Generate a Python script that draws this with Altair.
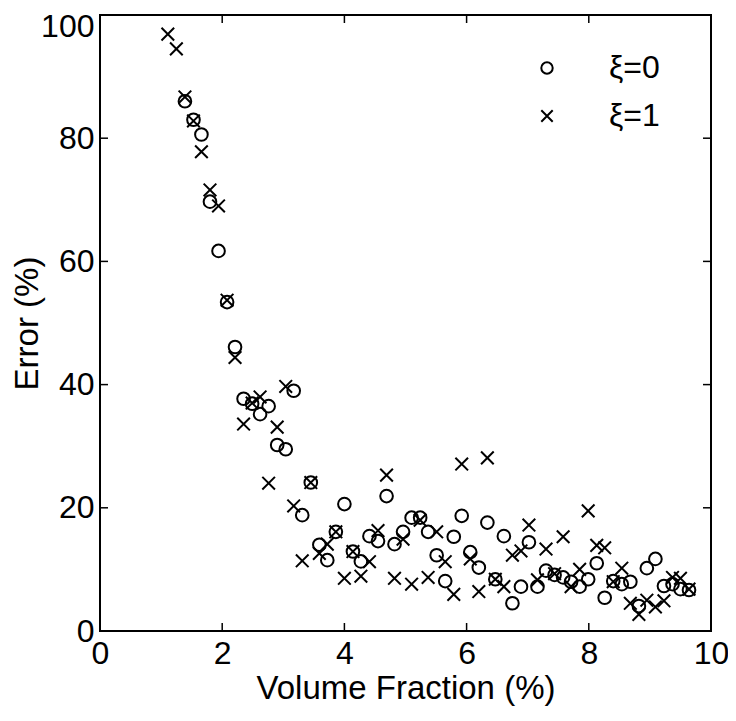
import altair as alt
import pandas as pd

# xi = 0 (circles)
vf0 = [1.39, 1.53, 1.66, 1.80, 1.94, 2.08, 2.21, 2.35, 2.49, 2.62, 2.76, 2.90, 3.04, 3.17, 3.31,
       3.45, 3.59, 3.72, 3.86, 4.00, 4.14, 4.27, 4.41, 4.55, 4.69, 4.82, 4.96, 5.10, 5.24, 5.37,
       5.51, 5.65, 5.79, 5.92, 6.06, 6.20, 6.34, 6.47, 6.61, 6.75, 6.89, 7.02, 7.16, 7.30, 7.44,
       7.58, 7.71, 7.85, 7.99, 8.13, 8.26, 8.40, 8.54, 8.68, 8.82, 8.95, 9.09, 9.23, 9.37, 9.50, 9.64]
err0 = [86.0, 83.0, 80.6, 69.7, 61.7, 53.4, 46.1, 37.7, 36.9, 35.2, 36.5, 30.2, 29.5, 39.0, 18.8,
        24.1, 14.0, 11.5, 16.1, 20.6, 12.9, 11.3, 15.4, 14.6, 21.9, 14.1, 16.1, 18.4, 18.4, 16.1,
        12.3, 8.1, 15.3, 18.7, 12.8, 10.3, 17.6, 8.4, 15.4, 4.5, 7.2, 14.4, 7.2, 9.8, 9.1,
        8.7, 8.0, 7.2, 8.4, 11.0, 5.4, 8.1, 7.6, 8.0, 4.05, 10.2, 11.7, 7.3, 7.6, 6.8, 6.65]

# xi = 1 (crosses)
vf1 = [1.11, 1.25] + vf0
err1 = [96.9, 94.5, 86.7, 82.8, 77.8, 71.6, 69.0, 53.7, 44.4, 33.6, 37.0, 38.0, 24.0, 33.1, 39.7,
        20.3, 11.4, 24.1, 12.6, 14.1, 16.1, 8.55, 12.9, 8.9, 11.25, 16.3, 25.3, 8.55, 14.9, 7.6,
        18.0, 8.7, 16.1, 11.25, 5.95, 27.1, 11.7, 6.4, 28.1, 8.4, 7.2, 12.3, 13.0, 17.2, 8.3,
        13.3, 9.3, 15.3, 7.2, 10.0, 19.5, 13.9, 13.5, 8.0, 10.2, 4.5, 2.7, 5.0, 3.9, 4.9,
        8.7, 8.55, 6.8]

labels = ["ξ=0", "ξ=1"]
x_ticks = [0, 2, 4, 6, 8, 10]
y_ticks = [0, 20, 40, 60, 80, 100]
x_inner = [2, 4, 6, 8]
y_inner = [20, 40, 60, 80]

W, H = 611, 616
FONT = "Liberation Sans"

df = pd.concat([
    pd.DataFrame({"vf": vf0, "err": err0, "series": labels[0]}),
    pd.DataFrame({"vf": vf1, "err": err1, "series": labels[1]}),
])

xscale = alt.Scale(domain=[0, 10], nice=False, zero=False)
yscale = alt.Scale(domain=[0, 100], nice=False, zero=False)

xaxis = alt.Axis(values=x_ticks, title="Volume Fraction (%)", domain=False, ticks=False,
                 grid=False, labelFontSize=32, labelPadding=7, labelFont=FONT,
                 labelFlush=False, labelOverlap=False,
                 labelColor="black", titleFont=FONT, titleFontSize=33,
                 titleFontWeight="normal", titleColor="black", titlePadding=3)
yaxis = alt.Axis(values=y_ticks, title="Error (%)", domain=False, ticks=False,
                 grid=False, labelFontSize=32, labelPadding=6, labelFont=FONT,
                 labelFlush=False, labelOverlap=False,
                 labelColor="black", titleFont=FONT, titleFontSize=33,
                 labelBaseline={"condition": {"test": "datum.value == 100", "value": "top"},
                                "value": "middle"},
                 labelOffset={"condition": {"test": "datum.value == 100", "value": -4},
                              "value": 0},
                 titleFontWeight="normal", titleColor="black", titlePadding=-4)

points = alt.Chart(df).mark_point(filled=False, strokeWidth=2, opacity=1, color="black", size=160).encode(
    x=alt.X("vf:Q", scale=xscale, axis=xaxis, title="Volume Fraction (%)"),
    y=alt.Y("err:Q", scale=yscale, axis=yaxis, title="Error (%)"),
    shape=alt.Shape("series:N",
                    scale=alt.Scale(domain=labels, range=["circle", "M-1,-1L1,1M1,-1L-1,1"]),
                    legend=alt.Legend(title=None, orient="none", legendX=431, legendY=37,
                                      labelFontSize=32, labelFont=FONT, labelColor="black",
                                      labelOffset=46, symbolSize=130, symbolStrokeWidth=2,
                                      symbolStrokeColor="black", symbolFillColor="transparent",
                                      rowPadding=16, padding=0)),
)

tx = pd.DataFrame({"v": x_inner})
ty = pd.DataFrame({"v": y_inner})

bottom = alt.Chart(tx).mark_rule(color="black", strokeWidth=1.5).encode(
    x=alt.X("v:Q", scale=xscale, axis=xaxis, title="Volume Fraction (%)"),
    y=alt.value(H), y2=alt.value(H - 8))
top = alt.Chart(tx).mark_rule(color="black", strokeWidth=1.5).encode(
    x=alt.X("v:Q", scale=xscale, axis=xaxis, title="Volume Fraction (%)"),
    y=alt.value(0), y2=alt.value(8))
left = alt.Chart(ty).mark_rule(color="black", strokeWidth=1.5).encode(
    y=alt.Y("v:Q", scale=yscale, axis=yaxis, title="Error (%)"),
    x=alt.value(0), x2=alt.value(8))
right = alt.Chart(ty).mark_rule(color="black", strokeWidth=1.5).encode(
    y=alt.Y("v:Q", scale=yscale, axis=yaxis, title="Error (%)"),
    x=alt.value(W), x2=alt.value(W - 8))

chart = alt.layer(points, bottom, top, left, right).properties(
    width=W, height=H,
    autosize=alt.AutoSizeParams(type="none"),
    padding={"left": 92, "top": 7, "right": 17, "bottom": 82},
    background="white",
).configure_view(stroke="black", strokeWidth=2)

chart.save("out.html", embed_options={"renderer": "svg", "actions": False})
